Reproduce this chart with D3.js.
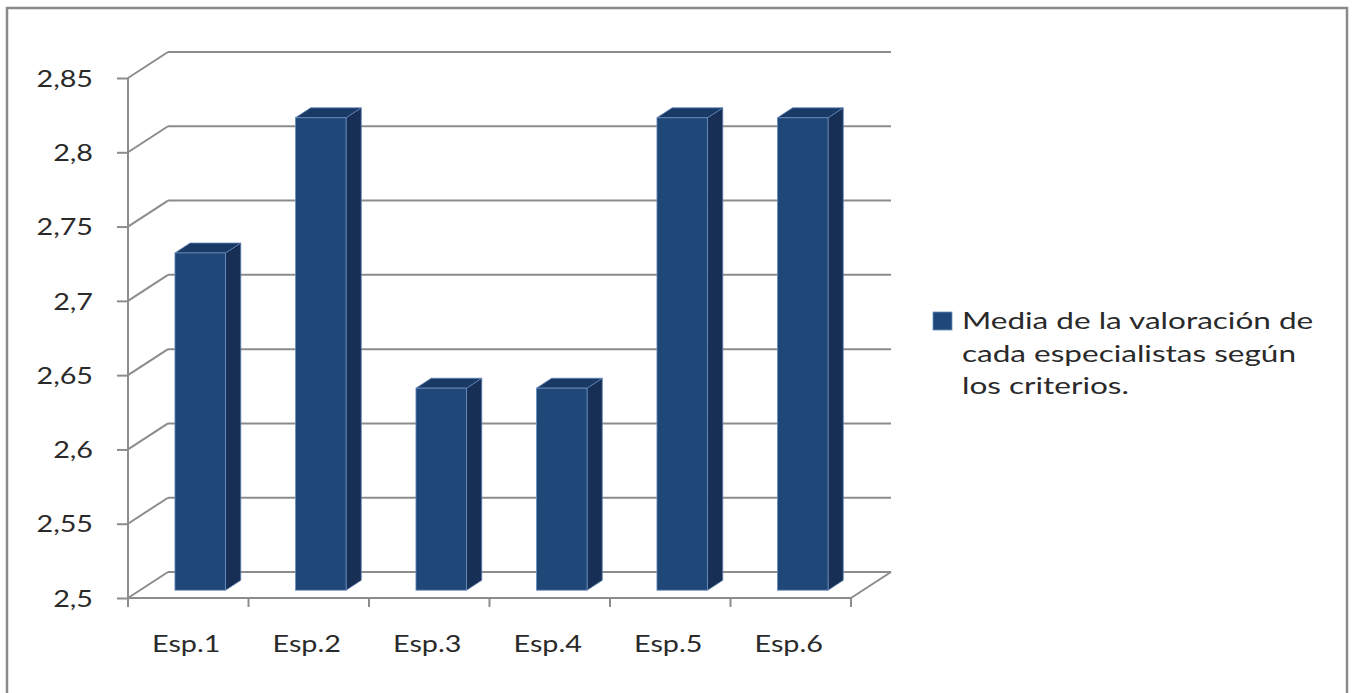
<!DOCTYPE html>
<html>
<head>
<meta charset="utf-8">
<script src="https://cdn.jsdelivr.net/npm/d3@7"></script>
<style>
  body { margin: 0; background: #fff; }
  svg text { font-family: Lato, "Open Sans", sans-serif; fill: #2a2a2a; }
</style>
</head>
<body>
<div id="chart"></div>
<script>
// Data
let categories = ["Esp.1", "Esp.2", "Esp.3", "Esp.4", "Esp.5", "Esp.6"]
let values = [2.727, 2.818, 2.636, 2.636, 2.818, 2.818]
let yTicks = [2.5, 2.55, 2.6, 2.65, 2.7, 2.75, 2.8, 2.85]
let seriesName = ["Media de la valoración de", "cada especialistas según", "los criterios."]

const width = 1354, height = 693
const DX = 40, DY = -26          // depth of the 3D box
const front = 0.3, back = 0.68   // depth of the bars inside the box
const stretch = 1.25             // text in the picture is wide

const svg = d3.select("#chart").append("svg")
  .attr("width", width).attr("height", height)

// outer frame
svg.append("rect")
  .attr("x", 7).attr("y", 8).attr("width", 1340).attr("height", 690)
  .attr("fill", "none").attr("stroke", "#8a8a8a").attr("stroke-width", 2.5)

const x = d3.scaleBand().domain(categories).range([128, 851])
const y = d3.scaleLinear().domain([2.5, 2.85]).range([598, 78])

const grid = "#8c8c8c"
const g = svg.append("g").attr("stroke", grid).attr("stroke-width", 2).attr("fill", "none")

// back wall grid lines + side wall diagonals
yTicks.forEach(t => {
  g.append("line").attr("x1", 128 + DX).attr("x2", 851 + DX)
    .attr("y1", y(t) + DY).attr("y2", y(t) + DY)
  g.append("line").attr("x1", 128).attr("x2", 128 + DX)
    .attr("y1", y(t)).attr("y2", y(t) + DY)
})
// floor right edge
g.append("line").attr("x1", 851).attr("y1", y(2.5)).attr("x2", 851 + DX).attr("y2", y(2.5) + DY)

// bars
const bw = x.bandwidth() * 0.42
const bars = svg.append("g")
categories.forEach((c, i) => {
  let x0 = x(c) + (x.bandwidth() - bw) / 2 + DX * front
  let x1 = x0 + bw
  let yt = y(values[i]) + DY * front
  let yb = y(2.5) + DY * front
  let ox = DX * (back - front), oy = DY * (back - front)
  // side
  bars.append("polygon")
    .attr("points", [[x1, yb], [x1 + ox, yb + oy], [x1 + ox, yt + oy], [x1, yt]].join(" "))
    .attr("fill", "#172f55").attr("stroke", "#5d7fae").attr("stroke-width", 0.8)
  // top
  bars.append("polygon")
    .attr("points", [[x0, yt], [x1, yt], [x1 + ox, yt + oy], [x0 + ox, yt + oy]].join(" "))
    .attr("fill", "#1a3a66").attr("stroke", "#5d7fae").attr("stroke-width", 0.8)
  // front
  bars.append("rect")
    .attr("x", x0).attr("y", yt).attr("width", bw).attr("height", yb - yt)
    .attr("fill", "#1f4778").attr("stroke", "#6d8fc0").attr("stroke-width", 0.8)
})

// front axes
const yAxis = svg.append("g").attr("transform", "translate(128,0)")
  .call(d3.axisLeft(y).tickValues(yTicks).tickSize(11).tickFormat(d => d3.format("~g")(d).replace(".", ",")))
yAxis.selectAll("path, line").attr("stroke", grid).attr("stroke-width", 2)
yAxis.select(".domain").attr("d", `M0,${y(2.85)}V${y(2.5)}`)
yAxis.selectAll("text").attr("font-size", 23).attr("x", 0).attr("dy", "0.36em")
  .attr("fill", null).attr("font-family", null)
  .attr("transform", "translate(-35,0) scale(" + stretch + ",1)")

const xAxis = svg.append("g").attr("transform", `translate(0,${y(2.5)})`)
  .call(d3.axisBottom(x).tickSize(9).tickFormat(""))
xAxis.selectAll("path, line").attr("stroke", grid).attr("stroke-width", 2)
xAxis.select(".domain").attr("d", "M128,0H851")
xAxis.selectAll(".tick line").attr("transform", d => `translate(${-x.bandwidth() / 2},0)`)
xAxis.append("line").attr("x1", 851).attr("x2", 851).attr("y1", 0).attr("y2", 9)
  .attr("stroke", grid).attr("stroke-width", 2)

svg.append("g").selectAll("text").data(categories).join("text")
  .attr("transform", d => `translate(${x(d) + x.bandwidth() / 2 - 2},652) scale(${stretch},1)`)
  .attr("text-anchor", "middle").attr("font-size", 23).text(d => d)

// legend
svg.append("rect").attr("x", 933).attr("y", 312).attr("width", 19).attr("height", 18)
  .attr("fill", "#1f4778").attr("stroke", "#6d8fc0").attr("stroke-width", 0.8)
svg.append("g").selectAll("text").data(seriesName).join("text")
  .attr("transform", (d, i) => `translate(962,${329 + i * 32.5}) scale(1.37,1)`)
  .attr("font-size", 23).text(d => d)
</script>
</body>
</html>
